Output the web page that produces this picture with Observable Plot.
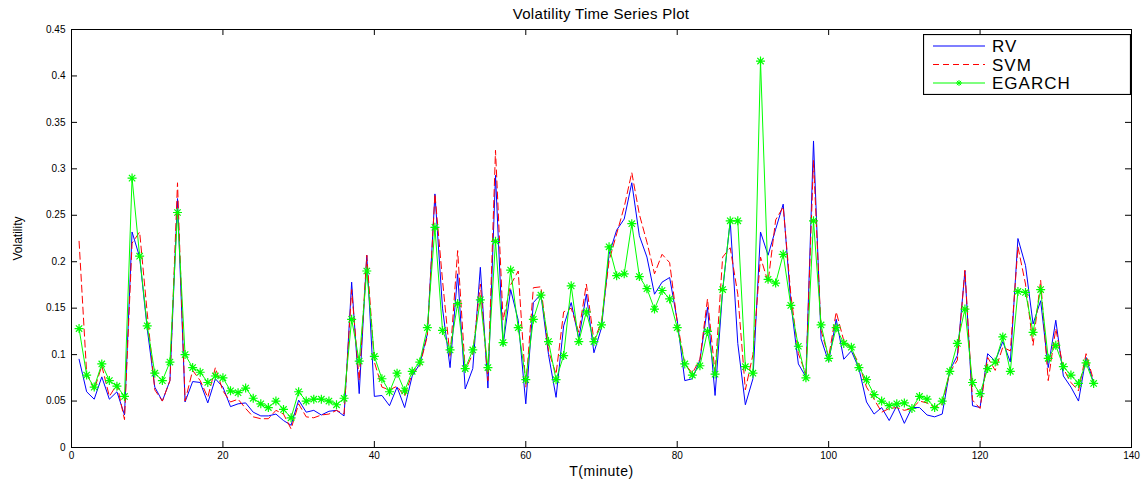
<!DOCTYPE html>
<html><head><meta charset="utf-8">
<script src="https://cdn.jsdelivr.net/npm/d3@7"></script>
<script src="https://cdn.jsdelivr.net/npm/@observablehq/plot@0.6"></script>
<style>
body{margin:0;background:#fff;}
#wrap{position:relative;width:1147px;height:479px;font-family:Arial,"Liberation Sans",sans-serif;}
#title{position:absolute;top:5px;left:71px;width:1060px;text-align:center;font-size:15px;color:#000;letter-spacing:0.3px;}
#legend{position:absolute;left:923px;top:34px;}
</style></head><body>
<div id="wrap"><div id="title"></div></div>
<script>
const chartTitle = "Volatility Time Series Plot";
const xLabel = "T(minute)";
const yLabel = "Volatility";
const seriesNames = ["RV", "SVM", "EGARCH"];
const seriesColors = ["#0000ff", "#ff0000", "#00ff00"];
const xTicks = [0, 20, 40, 60, 80, 100, 120, 140];
const yTicks = [0, 0.05, 0.1, 0.15, 0.2, 0.25, 0.3, 0.35, 0.4, 0.45];
const yTickLabels = ["0", "0.05", "0.1", "0.15", "0.2", "0.25", "0.3", "0.35", "0.4", "0.45"];

const rv = [0.095,0.060,0.052,0.076,0.052,0.060,0.035,0.232,0.205,0.128,
0.065,0.050,0.072,0.268,0.049,0.071,0.070,0.048,0.074,0.065,
0.044,0.047,0.048,0.038,0.034,0.034,0.036,0.029,0.024,0.051,
0.038,0.040,0.035,0.039,0.040,0.034,0.178,0.058,0.207,0.055,
0.056,0.045,0.065,0.043,0.077,0.090,0.122,0.273,0.150,0.086,
0.187,0.063,0.085,0.194,0.064,0.293,0.110,0.170,0.137,0.047,
0.156,0.165,0.100,0.054,0.131,0.156,0.117,0.165,0.102,0.129,
0.208,0.234,0.246,0.285,0.228,0.205,0.165,0.178,0.183,0.137,
0.072,0.074,0.094,0.151,0.056,0.169,0.244,0.112,0.046,0.074,
0.232,0.207,0.235,0.262,0.156,0.090,0.076,0.330,0.117,0.092,
0.138,0.095,0.104,0.085,0.049,0.036,0.043,0.029,0.045,0.026,
0.043,0.043,0.035,0.033,0.036,0.083,0.099,0.190,0.045,0.043,
0.101,0.093,0.114,0.092,0.225,0.196,0.133,0.158,0.086,0.137,
0.077,0.065,0.050,0.097,0.069];

const svm = [0.222,0.080,0.062,0.088,0.055,0.068,0.030,0.220,0.232,0.145,
0.062,0.050,0.072,0.285,0.050,0.083,0.072,0.054,0.086,0.061,
0.049,0.052,0.042,0.033,0.031,0.031,0.040,0.036,0.020,0.047,
0.033,0.032,0.035,0.036,0.040,0.036,0.170,0.072,0.207,0.092,
0.065,0.062,0.066,0.055,0.080,0.088,0.120,0.273,0.180,0.097,
0.212,0.083,0.101,0.176,0.072,0.320,0.137,0.175,0.190,0.065,
0.172,0.173,0.104,0.079,0.146,0.150,0.124,0.176,0.115,0.135,
0.201,0.230,0.259,0.296,0.251,0.221,0.187,0.208,0.199,0.135,
0.090,0.080,0.095,0.160,0.080,0.205,0.215,0.165,0.062,0.100,
0.205,0.178,0.245,0.259,0.165,0.101,0.079,0.309,0.126,0.097,
0.146,0.115,0.106,0.090,0.065,0.052,0.038,0.042,0.043,0.040,
0.042,0.050,0.048,0.043,0.047,0.081,0.094,0.191,0.051,0.042,
0.097,0.083,0.108,0.104,0.216,0.176,0.110,0.180,0.072,0.128,
0.085,0.070,0.061,0.101,0.072];

const egarch = [0.128,0.078,0.065,0.090,0.072,0.066,0.055,0.290,0.206,0.131,
0.080,0.072,0.092,0.253,0.100,0.086,0.081,0.070,0.077,0.075,
0.061,0.059,0.064,0.053,0.047,0.043,0.050,0.041,0.032,0.060,
0.050,0.052,0.052,0.050,0.046,0.053,0.138,0.093,0.190,0.098,
0.074,0.060,0.080,0.061,0.082,0.092,0.129,0.237,0.126,0.105,
0.155,0.085,0.105,0.159,0.086,0.222,0.113,0.191,0.129,0.073,
0.138,0.164,0.114,0.073,0.099,0.174,0.114,0.146,0.114,0.132,
0.216,0.185,0.187,0.241,0.184,0.171,0.149,0.169,0.160,0.129,
0.090,0.078,0.088,0.125,0.079,0.170,0.244,0.244,0.087,0.080,
0.416,0.181,0.177,0.208,0.153,0.109,0.075,0.244,0.132,0.096,
0.129,0.112,0.108,0.086,0.073,0.057,0.050,0.045,0.047,0.048,
0.042,0.055,0.052,0.043,0.050,0.082,0.112,0.149,0.070,0.058,
0.085,0.092,0.119,0.082,0.168,0.167,0.124,0.170,0.096,0.110,
0.087,0.078,0.069,0.091,0.069];

const minutes = rv.map((_, i) => i + 1);
const rows = (vals) => vals.map((v, i) => ({t: minutes[i], v}));
const rvRows = rows(rv), svmRows = rows(svm), egRows = rows(egarch);

// 8-armed asterisk marker (MATLAB '*')
const star8 = {
  draw(ctx, size) {
    const r = Math.sqrt(size / Math.PI);
    const d = r * Math.SQRT1_2;
    ctx.moveTo(-r, 0); ctx.lineTo(r, 0);
    ctx.moveTo(0, -r); ctx.lineTo(0, r);
    ctx.moveTo(-d, -d); ctx.lineTo(d, d);
    ctx.moveTo(-d, d); ctx.lineTo(d, -d);
  }
};

const xDomain = [xTicks[0], xTicks[xTicks.length - 1]];
const yDomain = [yTicks[0], yTicks[yTicks.length - 1]];
const tickLenX = (xDomain[1] - xDomain[0]) * 6 / 1060;
const tickLenY = (yDomain[1] - yDomain[0]) * 6 / 418;

const chart = Plot.plot({
  width: 1147,
  height: 479,
  marginLeft: 71,
  marginRight: 16,
  marginTop: 29,
  marginBottom: 32,
  style: {fontFamily: "Arial, 'Liberation Sans', sans-serif", fontSize: "10px", color: "#000", background: "#fff"},
  x: {domain: xDomain},
  y: {domain: yDomain},
  marks: [
    Plot.ruleX(xTicks, {x: d => d, y1: yDomain[0], y2: yDomain[0] + tickLenY, stroke: "#000"}),
    Plot.ruleX(xTicks, {x: d => d, y1: yDomain[1] - tickLenY, y2: yDomain[1], stroke: "#000"}),
    Plot.ruleY(yTicks, {y: d => d, x1: xDomain[0], x2: xDomain[0] + tickLenX, stroke: "#000"}),
    Plot.ruleY(yTicks, {y: d => d, x1: xDomain[1] - tickLenX, x2: xDomain[1], stroke: "#000"}),
    Plot.axisX({ticks: xTicks, tickSize: 0, tickPadding: 4, fontSize: 10,
      label: xLabel, labelAnchor: "center", labelArrow: "none", labelOffset: 28}),
    Plot.axisY({ticks: yTicks, tickSize: 0, tickPadding: 6, fontSize: 10,
      tickFormat: d => yTickLabels[yTicks.indexOf(d)],
      label: yLabel, labelAnchor: "center", labelArrow: "none", labelOffset: 58}),
    Plot.line(rvRows, {x: "t", y: "v", stroke: seriesColors[0], strokeWidth: 1}),
    Plot.line(svmRows, {x: "t", y: "v", stroke: seriesColors[1], strokeWidth: 1, strokeDasharray: "7,4"}),
    Plot.line(egRows, {x: "t", y: "v", stroke: seriesColors[2], strokeWidth: 1}),
    Plot.dot(egRows, {x: "t", y: "v", symbol: star8, r: 4.5, stroke: seriesColors[2], strokeWidth: 1.2, fill: "none"}),
    Plot.frame({stroke: "#000", strokeWidth: 1})
  ]
});

const wrap = document.getElementById("wrap");
document.getElementById("title").textContent = chartTitle;
wrap.insertBefore(chart, wrap.firstChild);
d3.select(chart).selectAll("text")
  .filter(function() { return this.textContent === xLabel; })
  .style("font-size", "14px").attr("letter-spacing", "0.5px");
d3.select(chart).selectAll("text")
  .filter(function() { return this.textContent === yLabel; })
  .style("font-size", "12px");

// legend box
const lw = 207, lh = 60;
const leg = d3.select(wrap).append("svg").attr("id", "legend")
  .attr("width", lw + 1).attr("height", lh + 1);
leg.append("rect").attr("x", 0.5).attr("y", 0.5).attr("width", lw).attr("height", lh)
  .attr("fill", "#fff").attr("stroke", "#000").attr("stroke-width", 1.2);
seriesNames.forEach((name, i) => {
  const y = 12 + i * 18.5;
  const g = leg.append("g");
  const ln = g.append("line").attr("x1", 10).attr("x2", 62).attr("y1", y).attr("y2", y)
    .attr("stroke", seriesColors[i]).attr("stroke-width", 1.2);
  if (i === 1) ln.attr("stroke-dasharray", "6,4");
  if (i === 2) {
    g.append("path").attr("transform", `translate(36,${y})`)
      .attr("d", d3.symbol(star8, Math.PI * 9)()).attr("stroke", seriesColors[2]).attr("fill", "none");
  }
  g.append("text").attr("x", 69).attr("y", y + 6).text(name)
    .attr("font-size", "17px").attr("letter-spacing", "1px").attr("fill", "#000")
    .attr("font-family", "Arial, 'Liberation Sans', sans-serif");
});
</script>
</body></html>
